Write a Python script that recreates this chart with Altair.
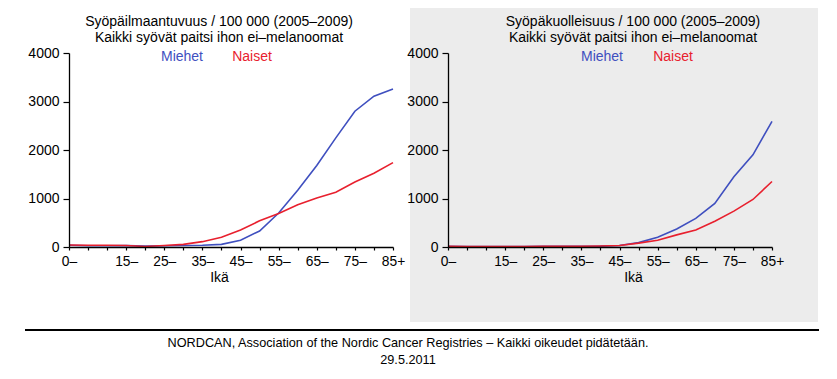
import altair as alt
import pandas as pd

# ---- data ----
age_labels = ["0–", "5–", "10–", "15–", "20–", "25–", "30–", "35–", "40–", "45–",
              "50–", "55–", "60–", "65–", "70–", "75–", "80–", "85+"]
shown_labels = ["0–", "15–", "25–", "35–", "45–", "55–", "65–", "75–", "85+"]

inc_men = [35, 25, 25, 30, 22, 25, 30, 35, 55, 140, 330, 700, 1170, 1680, 2250, 2800, 3110, 3260]
inc_women = [40, 35, 35, 30, 10, 30, 55, 110, 200, 350, 540, 690, 870, 1010, 1130, 1340, 1520, 1740]
mort_men = [12, 8, 8, 10, 10, 12, 12, 15, 18, 30, 90, 200, 370, 590, 900, 1450, 1900, 2590]
mort_women = [12, 8, 8, 10, 10, 12, 12, 15, 20, 30, 80, 140, 250, 350, 530, 740, 980, 1350]

series = ["Miehet", "Naiset"]
series_colors = ["#3f4fbf", "#e8202e"]
y_ticks = [0, 1000, 2000, 3000, 4000]

titles_inc = ["Syöpäilmaantuvuus / 100 000 (2005–2009)", "Kaikki syövät paitsi ihon ei–melanoomat"]
titles_mort = ["Syöpäkuolleisuus / 100 000 (2005–2009)", "Kaikki syövät paitsi ihon ei–melanoomat"]
x_title = "Ikä"
footer_lines = ["NORDCAN, Association of the Nordic Cancer Registries – Kaikki oikeudet pidätetään.",
                "29.5.2011"]

FONT = "Liberation Sans"
W, H = 324, 194

label_expr = "[" + ",".join("'" + (l if l in shown_labels else "") + "'" for l in age_labels) + "][datum.value]"
one = pd.DataFrame({"a": [0]})


def txt(s, x, y, size=14, color="black"):
    return alt.Chart(pd.DataFrame({"t": [s]})).mark_text(
        font=FONT, fontSize=size, color=color, align="center", baseline="middle"
    ).encode(x=alt.value(x), y=alt.value(y), text="t:N")


def panel(men, women, title_lines, tx, leg_x, bg_layers, extra_layers):
    df = pd.DataFrame({
        "idx": list(range(len(age_labels))) * 2,
        "val": men + women,
        "sex": [series[0]] * len(men) + [series[1]] * len(women),
    })
    lines = alt.Chart(df).mark_line(strokeWidth=1.6).encode(
        x=alt.X("idx:Q",
                scale=alt.Scale(domain=[0, len(age_labels) - 1], nice=False, zero=False),
                axis=alt.Axis(values=list(range(len(age_labels))), labelExpr=label_expr,
                              title=x_title, titleX=tx, titleY=30, titleBaseline="middle",
                              titleFont=FONT, titleFontSize=14, titleFontWeight="normal",
                              titleColor="black",
                              tickSize=3, labelPadding=4, labelFlush=False, labelOverlap=False,
                              labelFont=FONT, labelFontSize=13.8, labelColor="black",
                              domainColor="black", tickColor="black", domainWidth=1.3,
                              tickWidth=1.2, grid=False, zindex=1)),
        y=alt.Y("val:Q", scale=alt.Scale(domain=[0, 4000], nice=False),
                axis=alt.Axis(values=y_ticks, format="d", title=None, tickSize=6,
                              labelPadding=4, labelFont=FONT, labelFontSize=14,
                              labelColor="black", domainColor="black", tickColor="black",
                              domainWidth=1.3, tickWidth=1.2, grid=False, zindex=1)),
        color=alt.Color("sex:N", scale=alt.Scale(domain=series, range=series_colors), legend=None),
    )
    layers = bg_layers + [lines,
                          txt(title_lines[0], tx, -31),
                          txt(title_lines[1], tx, -15),
                          txt(series[0], leg_x[0], 4, color=series_colors[0]),
                          txt(series[1], leg_x[1], 4, color=series_colors[1])] + extra_layers
    return alt.layer(*layers).properties(width=W, height=H)


canvas_bg = alt.Chart(one).mark_rect(fill="white").encode(
    x=alt.value(-61), x2=alt.value(760), y=alt.value(-45), y2=alt.value(318))
gray_bg = alt.Chart(one).mark_rect(fill="#ececec").encode(
    x=alt.value(-38), x2=alt.value(370), y=alt.value(-45), y2=alt.value(269))
footer_rule = alt.Chart(one).mark_rule(color="black", strokeWidth=2).encode(
    x=alt.value(-44), x2=alt.value(750), y=alt.value(277))

left = panel(inc_men, inc_women, titles_inc, 150, (113, 183), [canvas_bg],
             [footer_rule,
              txt(footer_lines[0], 339, 290, size=12.7),
              txt(footer_lines[1], 339, 307, size=12.7)])
right = panel(mort_men, mort_women, titles_mort, 185, (154, 225), [gray_bg], [])

chart = alt.hconcat(left, right, spacing=55, bounds="flush").configure(
    padding=0, background="white"
).configure_view(stroke=None)

chart.save("out.html", embed_options={"renderer": "svg", "actions": False})
